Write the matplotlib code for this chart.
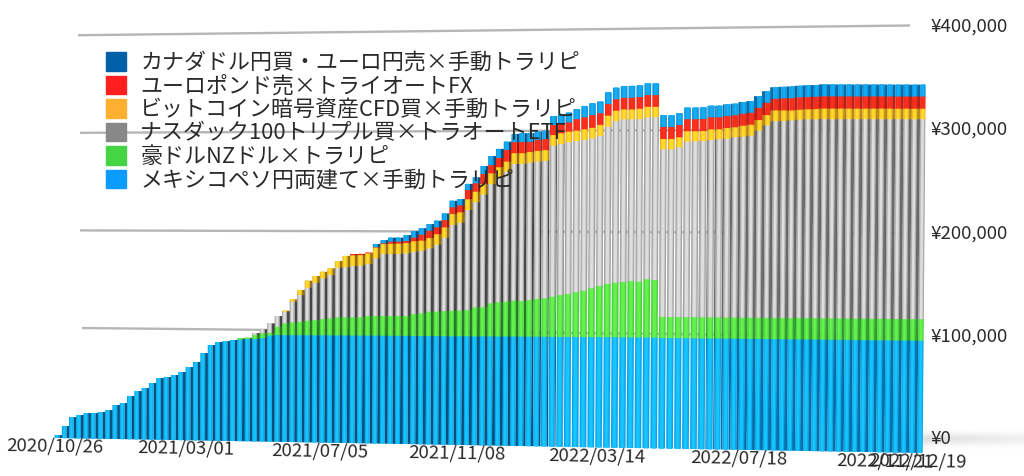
import numpy as np
import matplotlib
matplotlib.use('Agg')
import matplotlib.pyplot as plt
from matplotlib.transforms import Transform
from matplotlib.patches import Patch
from matplotlib.colors import to_rgb

plt.rcParams['font.family'] = ['Noto Sans CJK JP', 'DejaVu Sans']

# All series values are weekly amounts in units of 100 yen
UNIT = 100
mexico = [29,118,206,227,247,248,259,279,329,349,418,467,497,546,595,606,626,656,705,754,841,919,948,958,969,974,980,981,991,1015,1021,1021,1021,1022,1022,1022,1022,1023,1023,1023,1023,1024,1024,1024,1024,1024,1025,1025,1025,1025,1026,1026,1026,1026,1027,1027,1027,1028,1028,1028,1029,1029,1029,1029,1030,1030,1030,1030,1031,1031,1031,1031,1032,1032,1032,1032,1032,1033,1033,1033] + [1030]*33
aud_nzd = [0,0,0,0,0,0,0,0,0,0,0,0,0,0,0,0,0,0,0,0,0,0,0,0,0,12,12,38,45,27,79,112,122,128,138,145,155,162,172,173,173,174,186,187,187,188,188,188,208,215,230,231,237,241,241,248,274,274,312,322,328,338,335,345,355,361,377,393,403,419,434,457,479,498,510,517,526,520,543,536,196,196,196,196,196,196,196,196,196,196,196,196,196,196,196,196,196,197,197,197,197,197,197,197,197,197,197,197,197,197,197,197,197]
nasdaq = [0,0,0,0,0,0,0,0,0,0,0,0,0,0,0,0,0,0,0,0,0,0,0,0,0,0,0,19,38,90,102,111,197,255,315,356,388,412,472,476,488,491,494,548,588,588,588,594,590,593,600,634,693,810,831,944,991,1062,1124,1171,1224,1286,1289,1291,1290,1292,1417,1417,1423,1418,1412,1404,1404,1471,1512,1520,1510,1519,1511,1520,1563,1563,1581,1633,1637,1639,1648,1655,1660,1673,1678,1687,1733,1783,1822,1822,1828,1833,1837,1836,1839,1838,1838,1838,1837,1837,1837,1837,1836,1836,1836,1835,1835]
bitcoin = [0,0,0,0,0,0,0,0,0,0,0,0,0,0,0,0,0,0,0,0,0,0,0,0,0,0,0,0,0,0,0,10,23,48,67,64,63,64,64,108,102,99,102,101,95,98,98,98,99,95,97,98,98,104,98,101,100,101,101,101,94,101,101,101,101,100,100,100,99,97,100,99,103,103,96,93,93,96,99,96,96,96,93,97,93,93,99,93,99,93,102,102,99,95,99,99,92,92,92,95,97,97,97,97,97,97,97,97,97,96,96,96,96]
eur_gbp = [0]*40 + [12,12,6,4,7,19,19,19,34,57,69,66,69,63,66,88,79,94,78,88,110,104,106,94,103,103,94,87,86,107,112,119,109,109,107,108,110,109,109,109,112,112,115,112,112,112,112,111,111,111,111,111,114,114,107,111,114,115,114,114,113,113,112,112,112,112,112,112,112,112,112,112,112]
cad_eur = [0]*43 + [31,31,38,38,57,61,61,63,62,63,62,59,57,57,75,85,85,78,78,82,82,78,78,84,91,92,94,106,110,109,109,108,109,110,109,109,109,109,109,109,108,108,109,108,108,109,108,109,108,108,108,108,107,108,107,108,108,110,110,110,110,110,110,109,109,109,109,109,109,109]

series_names = ['メキシコペソ円両建て×手動トラリピ','豪ドルNZドル×トラリピ','ナスダック100トリプル買×トラオートETF','ビットコイン暗号資産CFD買×手動トラリピ','ユーロポンド売×トライオートFX','カナダドル円買・ユーロ円売×手動トラリピ']
legend_colors = ['#0a9bff','#44d444','#888888','#ffb030','#ff1f1f','#0060a8']
date_idx = [0,18,36,54,72,90,108,112]
date_labels = ['2020/10/26','2021/03/01','2021/07/05','2021/11/08','2022/03/14','2022/07/18','2022/11/21','2022/12/19']
y_ticks = [0,100000,200000,300000,400000]
y_labels = ['¥0','¥100,000','¥200,000','¥300,000','¥400,000']

segs = [np.array(s)*UNIT for s in (mexico,aud_nzd,nasdaq,bitcoin,eur_gbp,cad_eur)]
assert all(len(s)==113 for s in segs)
cum = np.cumsum(segs,axis=0)
idx = np.arange(113)

H = 476
class Persp(Transform):
    """Front plane of the 3D chart: (week index, yen) to pixels."""
    input_dims = output_dims = 2
    is_separable = False
    def transform_non_affine(self, xy):
        xy = np.asarray(xy, float)
        i, v = xy[:,0], xy[:,1]/1000
        x = 57+7.19*i+0.0046*i**2
        y = 438+0.0173*(x-57) - v*(1.03+0.06*i/112)
        return np.column_stack([x + v/340*3*i/112, H-y])

class Wall(Transform):
    """Back wall of the 3D chart: (pixel x, yen) to pixels."""
    input_dims = output_dims = 2
    is_separable = False
    def transform_non_affine(self, xy):
        xy = np.asarray(xy, float)
        x, v = xy[:,0], xy[:,1]/1000
        y = 425.6+0.0175*(x-80) - v*(0.976+0.000073*(x-80))
        return np.column_stack([x, H-y])

fig = plt.figure(figsize=(10.24,4.76), dpi=100)
ax = fig.add_axes([0,0,1,1]); ax.axis('off')
ax.set_xlim(0,1024); ax.set_ylim(0,476)
ax.set_zorder(2)
P = Persp(); W = Wall()

# floor shadow right of the bars
sax = fig.add_axes([915/1024,(476-450)/476,109/1024,22/476]); sax.axis('off'); sax.set_zorder(1)
yy = np.linspace(-1,1,40)[:,None]; xx = np.linspace(0,1,100)[None,:]
sax.imshow(1-0.13*np.exp(-(yy*1.8)**2)*(1-0.55*xx), cmap='gray', vmin=0, vmax=1, aspect='auto')

for v,x0 in zip(y_ticks[1:],[82,80,80,78]):
    ax.plot([x0,910],[v,v],color='#b6b6b6',lw=1.7,transform=W,zorder=1,solid_capstyle='butt')

cols = [('#07507c','#0a9fe8','#16c6ff'),('#2a7a28','#46cf3e','#66f24c'),('#454545','#a0a0a0','#dedede'),('#94700c','#f0b428','#ffdc28'),('#961a0e','#ee2a1a','#fb2f1e'),('#05507f','#0a96e0','#14acf5')]
dist = np.abs(idx-76)
sf = np.clip((dist-8)/8,0,1)
hw = 0.42-0.09*sf
sd = sf*0.38
side = np.where(idx<76,1,-1)
ov = 500
for j in range(5,-1,-1):
    top = cum[j]; bot = (cum[j-1]-ov) if j>0 else np.zeros(113)
    bot = np.maximum(bot,0)
    keep = segs[j]>0
    c0,c1,c2 = [np.array(to_rgb(c)) for c in cols[j]]
    xs = idx+side*(hw+sd/2)
    sidecols = [tuple(c0 if i<76 else c0*0.6+c1*0.4) for i in idx[keep]]
    ax.bar(xs[keep],(top-bot)[keep],bottom=bot[keep],width=(sd+0.02)[keep],color=sidecols,transform=P,clip_on=False,zorder=2,linewidth=0)
for j in range(5,-1,-1):
    top = cum[j]; bot = (cum[j-1]-ov) if j>0 else np.zeros(113)
    bot = np.maximum(bot,0)
    keep = segs[j]>0
    c0,c1,c2 = [np.array(to_rgb(c)) for c in cols[j]]
    for n,f in enumerate([1,0.72,0.45]):
        col = c1+(c2-c1)*n/2
        ax.bar(idx[keep],(top-bot)[keep],bottom=bot[keep],width=(2*hw*f)[keep],color=[tuple(col)],transform=P,clip_on=False,zorder=3+n*0.01,linewidth=0)

for i,lab in zip(date_idx,date_labels):
    ax.annotate(lab,xy=(i,0),xycoords=P,xytext=(-2,-8.5),textcoords='offset pixels',ha='center',va='center',fontsize=13.4,rotation=-1,color='#2a2a2a',zorder=6)
for v,lab,yp in zip(y_ticks,y_labels,[439,337,234,130,27]):
    ax.text(930,476-yp,lab,ha='left',va='center',fontsize=13.4,color='#2a2a2a',zorder=6)

handles = [Patch(color=c) for c in legend_colors[::-1]]
leg = ax.legend(handles,series_names[::-1],loc='upper left',bbox_to_anchor=(106/1024,1-52/476),frameon=False,fontsize=15.8,handlelength=0.9,handleheight=0.9,labelspacing=0.07,handletextpad=0.66,borderpad=0,borderaxespad=0,labelcolor='#2a2a2a')
leg.set_zorder(7)
fig.savefig('out.png',dpi=100)
